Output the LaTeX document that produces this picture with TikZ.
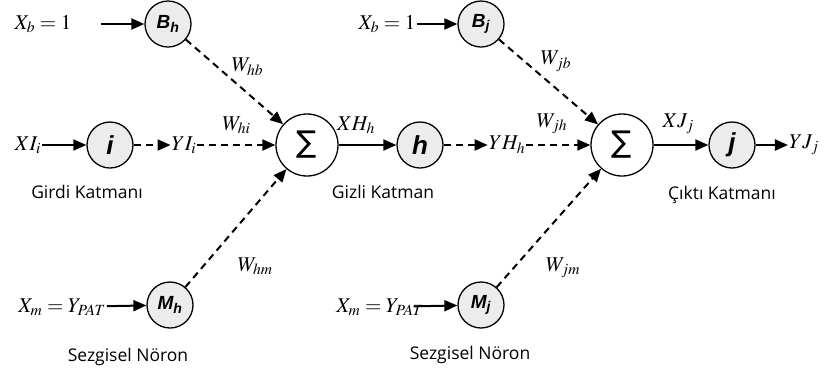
\documentclass[tikz,border=0pt]{standalone}
\usepackage{mathptmx}
\usepackage[no-math]{fontspec}
\setmainfont{Open Sans}
\newfontfamily\nodefont{Liberation Sans}
\newfontfamily\sigmafont{DejaVu Sans}
\usetikzlibrary{arrows.meta,positioning}
\newcommand{\bigletter}{\fontsize{26}{26}\selectfont}
\tikzset{
neuron/.style={circle,draw,line width=1.3pt,fill=gray!15,minimum size=46pt,inner sep=0pt,font=\nodefont\bfseries\itshape\fontsize{19}{19}\selectfont},
sumnode/.style={circle,draw,line width=1.3pt,fill=white,minimum size=62pt,inner sep=0pt,font=\sigmafont\fontsize{30}{30}\selectfont},
lbl/.style={inner sep=1pt,font=\fontsize{21}{24}\selectfont},
caption/.style={inner sep=1pt,font=\fontsize{17.5}{20}\selectfont},
link/.style={->,line width=2pt},
dlink/.style={link,dash pattern=on 7pt off 5pt}
}
\begin{document}
\begin{tikzpicture}[x=1pt,y=-1pt,>={Triangle[length=13pt,width=11pt]}]
\useasboundingbox (0,0) rectangle (826,376);
%neurons
\path
(168,24) node[neuron] (Bh) {B\textsubscript{h}}
(110,145) node[neuron] (i) {\bigletter i}
(170,305) node[neuron] (Mh) {M\textsubscript{h}}
(307,145) node[sumnode] (S1) {∑}
(420,145) node[neuron] (h) {\bigletter h}
(481,24) node[neuron] (Bj) {B\textsubscript{j}}
(481,305) node[neuron] (Mj) {M\textsubscript{j}}
(622,145) node[sumnode] (S2) {∑}
(732,145) node[neuron] (j) {\bigletter j};
%inputs, outputs
\path
(43,24) node[lbl] (xb1) {$X_b=1$}
(387,24) node[lbl] (xb2) {$X_b=1$}
(28,145) node[lbl] (xi) {$XI_i$}
(184,145) node[lbl] (yi) {$YI_i$}
(507,145) node[lbl] (yh) {$YH_h$}
(804,145) node[lbl] (yj) {$YJ_j$}
(62,307) node[lbl] (xm1) {$X_m=Y_{PAT}$}
(380,307) node[lbl] (xm2) {$X_m=Y_{PAT}$};
%layer names
\path
(87,192) node[caption] {Girdi Katmanı}
(383,192) node[caption] {Gizli Katman}
(722,195) node[caption] {Çıktı Katmanı}
(128,357) node[caption] {Sezgisel Nöron}
(470,355) node[caption] {Sezgisel Nöron};
%hidden layer
\draw[link,shorten <=28pt] (xb1) to (Bh);
\draw[link] (xi) to (i);
\draw[dlink] (i) to (yi);
\draw[dlink] (yi) to node[lbl,above=9pt] {$W_{hi}$} (S1);
\draw[dlink] (Bh) to node[lbl,pos=0.45,above right] {$W_{hb}$} (S1);
\draw[link] (xm1) to (Mh);
\draw[dlink] (Mh) to node[lbl,pos=0.3,below right=4pt and 20pt] {$W_{hm}$} (S1);
\draw[link] (S1) to node[lbl,pos=0.3,above=9pt] {$XH_h$} (h);
%output layer
\draw[dlink] (h) to (yh);
\draw[link] (xb2) to (Bj);
\draw[dlink] (yh) to node[lbl,pos=0.4,above=9pt] {$W_{jh}$} (S2);
\draw[dlink] (Bj) to node[lbl,pos=0.4,above right] {$W_{jb}$} (S2);
\draw[link,shorten <=-11pt] (xm2) to (Mj);
\draw[dlink] (Mj) to node[lbl,pos=0.3,below right=4pt and 16pt] {$W_{jm}$} (S2);
\draw[link] (S2) to node[lbl,pos=0.45,above=9pt] {$XJ_j$} (j);
\draw[link] (j) to (yj);
\end{tikzpicture}
\end{document}
